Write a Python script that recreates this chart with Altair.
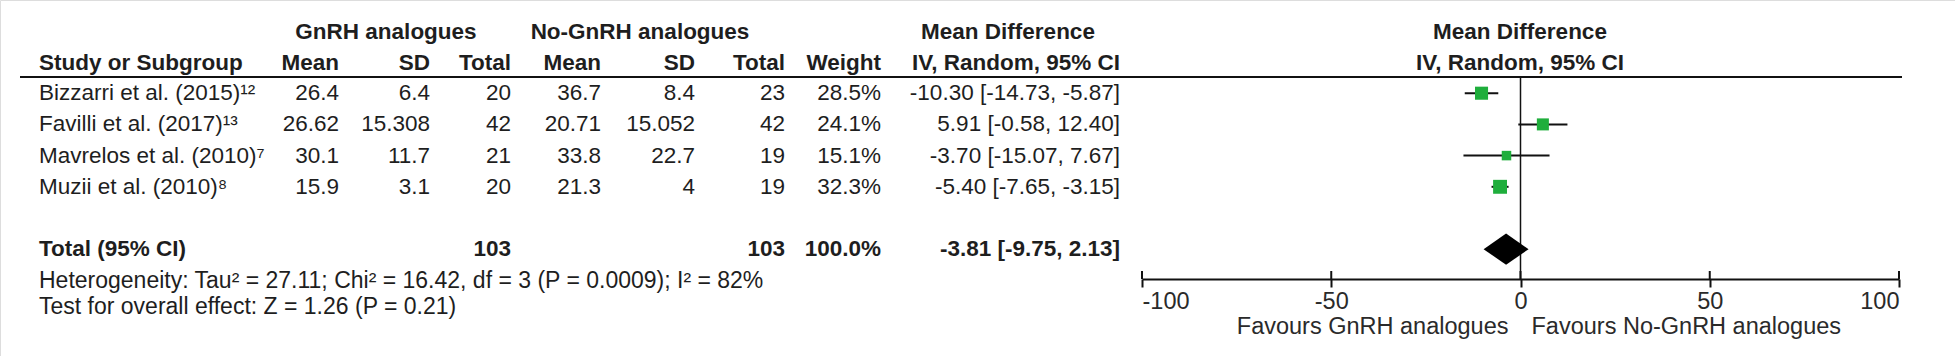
import altair as alt
import pandas as pd

# ---------------- data ----------------
studies = ["Bizzarri et al. (2015)¹²", "Favilli et al. (2017)¹³",
           "Mavrelos et al. (2010)⁷", "Muzii et al. (2010)⁸"]
mean_g = ["26.4", "26.62", "30.1", "15.9"]
sd_g = ["6.4", "15.308", "11.7", "3.1"]
n_g = [20, 42, 21, 20]
mean_c = ["36.7", "20.71", "33.8", "21.3"]
sd_c = ["8.4", "15.052", "22.7", "4"]
n_c = [23, 42, 19, 19]
weight = [28.5, 24.1, 15.1, 32.3]
md = [-10.30, 5.91, -3.70, -5.40]
md_lo = [-14.73, -0.58, -15.07, -7.65]
md_hi = [-5.87, 12.40, 7.67, -3.15]

total_n_g = 103
total_n_c = 103
total_weight = 100.0
total_md = -3.81
total_lo = -9.75
total_hi = 2.13

het_text = "Heterogeneity: Tau² = 27.11; Chi² = 16.42, df = 3 (P = 0.0009); I² = 82%"
test_text = "Test for overall effect: Z = 1.26 (P = 0.21)"
axis_ticks = [-100, -50, 0, 50, 100]
favours_left = "Favours GnRH analogues"
favours_right = "Favours No-GnRH analogues"

# ---------------- tables ----------------
df = pd.DataFrame({
    "study": studies, "mean_g": mean_g, "sd_g": sd_g, "n_g": n_g,
    "mean_c": mean_c, "sd_c": sd_c, "n_c": n_c, "weight": weight,
    "md": md, "lo": md_lo, "hi": md_hi,
})
df["row"] = range(1, len(df) + 1)
df["w_txt"] = [f"{w:.1f}%" for w in weight]
df["ci_txt"] = [f"{m:.2f} [{l:.2f}, {h:.2f}]" for m, l, h in zip(md, md_lo, md_hi)]

total_row = len(df) + 2
tot = pd.DataFrame({
    "row": [total_row], "label": ["Total (95% CI)"],
    "n_g": [total_n_g], "n_c": [total_n_c],
    "w_txt": [f"{total_weight:.1f}%"],
    "ci_txt": [f"{total_md:.2f} [{total_lo:.2f}, {total_hi:.2f}]"],
})
diamond = pd.DataFrame({"x": [total_lo, total_md, total_hi], "k": [0, 1, 0]})
diamond["row"] = total_row

# ---------------- style ----------------
FONT = "Liberation Sans"
TXT = "#1e1e1e"
FS = 22.5
GREEN = "#1fae3c"
W, H = 1955, 356
AXIS_Y = 279

YS = alt.Scale(domain=[0, 7], range=[62, 280.4], nice=False, zero=False)
XS = alt.Scale(domain=[-100, 100], range=[1142, 1899], nice=False, zero=False)
XAXIS = alt.Axis(values=axis_ticks, domain=True, domainColor="#111", domainWidth=2,
                 ticks=True, tickSize=8, tickWidth=2, tickColor="#111",
                 labelFont=FONT, labelFontSize=23.5, labelColor="#2a2a2a",
                 labelPadding=2, labelFlush=True, grid=False, title=None,
                 offset=AXIS_Y - H,
                 labelExpr="'' + datum.value")


def xq(field):
    return alt.X(field, type="quantitative", scale=XS, axis=XAXIS)


def yq():
    return alt.Y("row:Q", scale=YS, axis=None)


def col(data, field, xpx, align="right", bold=False):
    return alt.Chart(data).mark_text(
        align=align, baseline="middle", font=FONT, fontSize=FS,
        fontWeight="bold" if bold else "normal", color=TXT
    ).encode(x=alt.value(xpx), y=yq(), text=alt.Text(f"{field}:N"))


def label(text, xpx, ypx, align="left", bold=False, size=FS, color=TXT):
    return alt.Chart(pd.DataFrame({"t": [text]})).mark_text(
        align=align, baseline="middle", font=FONT, fontSize=size,
        fontWeight="bold" if bold else "normal", color=color
    ).encode(x=alt.value(xpx), y=alt.value(ypx), text="t:N")


layers = []

# headers
HY1, HY2 = 32, 63
layers += [
    label("GnRH analogues", 386, HY1, "center", True),
    label("No-GnRH analogues", 640, HY1, "center", True),
    label("Mean Difference", 1008, HY1, "center", True),
    label("Mean Difference", 1520, HY1, "center", True),
    label("Study or Subgroup", 39, HY2, "left", True),
    label("Mean", 339, HY2, "right", True),
    label("SD", 430, HY2, "right", True),
    label("Total", 511, HY2, "right", True),
    label("Mean", 601, HY2, "right", True),
    label("SD", 695, HY2, "right", True),
    label("Total", 785, HY2, "right", True),
    label("Weight", 881, HY2, "right", True),
    label("IV, Random, 95% CI", 1120, HY2, "right", True),
    label("IV, Random, 95% CI", 1520, HY2, "center", True),
]

# header rule
layers.append(alt.Chart(pd.DataFrame({"a": [0]})).mark_rule(color="#111", strokeWidth=2).encode(
    x=alt.value(20), x2=alt.value(1902), y=alt.value(77)))

# study rows
layers += [
    col(df, "study", 39, "left"),
    col(df, "mean_g", 339),
    col(df, "sd_g", 430),
    col(df, "n_g", 511),
    col(df, "mean_c", 601),
    col(df, "sd_c", 695),
    col(df, "n_c", 785),
    col(df, "w_txt", 881),
    col(df, "ci_txt", 1120),
]

# total row
layers += [
    col(tot, "label", 39, "left", True),
    col(tot, "n_g", 511, bold=True),
    col(tot, "n_c", 785, bold=True),
    col(tot, "w_txt", 881, bold=True),
    col(tot, "ci_txt", 1120, bold=True),
]

# footnotes
layers += [
    label(het_text, 39, 281, "left", size=23),
    label(test_text, 39, 307, "left", size=23),
]

# zero line
layers.append(alt.Chart(pd.DataFrame({"v": [0]})).mark_rule(color="#111", strokeWidth=1.5).encode(
    x=xq("v"), y=alt.value(78), y2=alt.value(AXIS_Y)))

# upper halves of axis ticks
layers.append(alt.Chart(pd.DataFrame({"v": axis_ticks})).mark_rule(color="#111", strokeWidth=2).encode(
    x=xq("v"), y=alt.value(AXIS_Y - 8), y2=alt.value(AXIS_Y)))

# CI lines
layers.append(alt.Chart(df).mark_rule(color="#111", strokeWidth=2).encode(
    x=xq("lo"), x2="hi:Q", y=yq()))

# squares
layers.append(alt.Chart(df).mark_square(filled=True, opacity=1, color=GREEN).encode(
    x=xq("md"), y=yq(),
    size=alt.Size("weight:Q", scale=alt.Scale(domain=[0, 100], range=[0, 600]), legend=None)))

# diamond
layers.append(alt.Chart(diamond).transform_calculate(
    ytop="datum.row - datum.k * 0.5", ybot="datum.row + datum.k * 0.5"
).mark_area(color="#000", orient="vertical", opacity=1).encode(
    x=xq("x"), y=alt.Y("ytop:Q", scale=YS, axis=None), y2="ybot:Q"))

# favours labels
fav = pd.DataFrame({"v": [0, 0], "t": [favours_left, favours_right],
                    "side": ["l", "r"]})
layers.append(alt.Chart(fav).transform_filter("datum.side == 'l'").mark_text(
    align="right", baseline="middle", font=FONT, fontSize=23.5, color="#2a2a2a", dx=-12
).encode(x=xq("v"), y=alt.value(327), text="t:N"))
layers.append(alt.Chart(fav).transform_filter("datum.side == 'r'").mark_text(
    align="left", baseline="middle", font=FONT, fontSize=23.5, color="#2a2a2a", dx=11
).encode(x=xq("v"), y=alt.value(327), text="t:N"))

chart = alt.layer(*layers).properties(
    width=W, height=H, padding=0,
    autosize=alt.AutoSizeParams(type="none"),
).configure_view(stroke=None).configure(background="white")

chart.save("out.html", embed_options={"renderer": "svg", "actions": False})
